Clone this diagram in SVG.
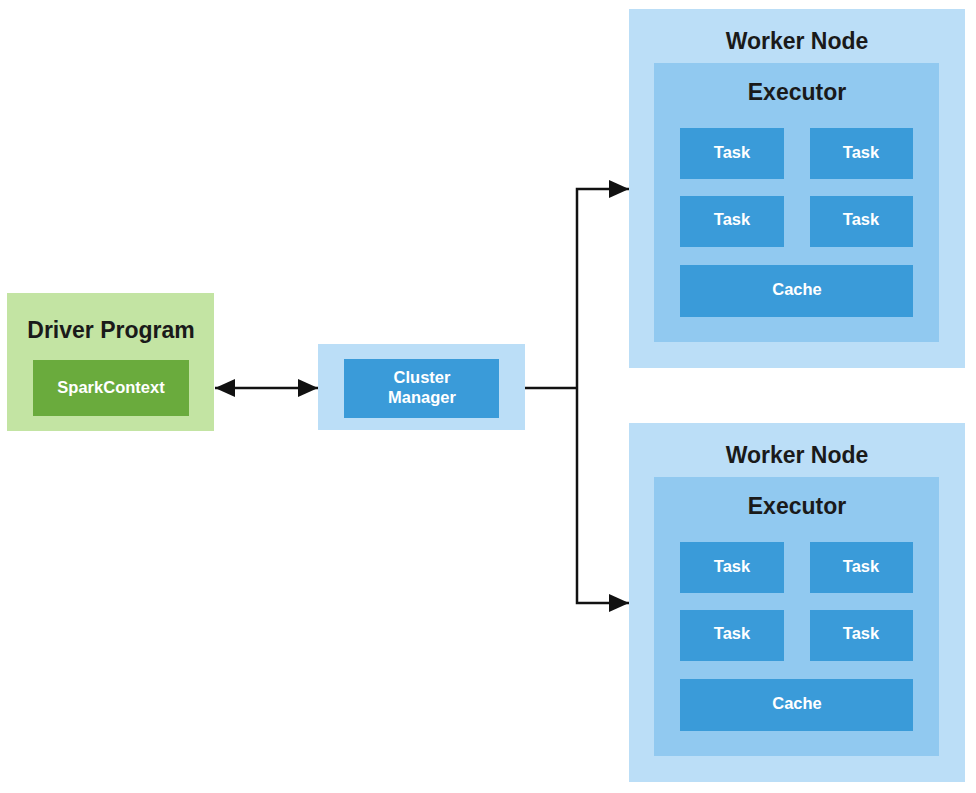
<svg xmlns="http://www.w3.org/2000/svg" width="976" height="793" viewBox="0 0 976 793">
<defs>
<style>
.title{font-family:"Liberation Sans",Arial,sans-serif;font-weight:bold;font-size:23px;fill:#1a1a1a;text-anchor:middle}
.lbl{font-family:"Liberation Sans",Arial,sans-serif;font-weight:bold;font-size:16.5px;fill:#ffffff;text-anchor:middle}
.outerB{fill:#bbdef7}
.exec{fill:#91c9f0}
.task{fill:#3a9bd9}
.outerG{fill:#c3e4a3}
.innerG{fill:#6aab3d}
.conn{fill:none;stroke:#111;stroke-width:2.5}
</style>
<marker id="ah" viewBox="0 0 20 18" refX="20" refY="9" markerWidth="20" markerHeight="18" markerUnits="userSpaceOnUse" orient="auto-start-reverse">
<path d="M0,0 L20,9 L0,18 Z" fill="#111"/>
</marker>
</defs>
<rect width="976" height="793" fill="#ffffff"/>

<g id="driver">
<rect class="outerG" x="7" y="293" width="207" height="138"/>
<text class="title" x="111" y="338">Driver Program</text>
<g id="sparkcontext">
<rect class="innerG" x="33" y="360" width="156" height="56"/>
<text class="lbl" x="111" y="393">SparkContext</text>
</g>
</g>

<g id="cluster-manager">
<rect class="outerB" x="318" y="344" width="207" height="86"/>
<rect class="task" x="344" y="359" width="155" height="59"/>
<text class="lbl" x="422" y="383">Cluster</text>
<text class="lbl" x="422" y="403">Manager</text>
</g>

<g id="worker1">
<rect class="outerB" x="629" y="9" width="336" height="359"/>
<text class="title" x="797" y="49">Worker Node</text>
<g id="executor1">
<rect class="exec" x="654" y="63" width="285" height="279"/>
<text class="title" x="797" y="100">Executor</text>
<rect class="task" x="680" y="128" width="104" height="51"/>
<text class="lbl" x="732" y="158">Task</text>
<rect class="task" x="810" y="128" width="103" height="51"/>
<text class="lbl" x="861" y="158">Task</text>
<rect class="task" x="680" y="196" width="104" height="51"/>
<text class="lbl" x="732" y="225">Task</text>
<rect class="task" x="810" y="196" width="103" height="51"/>
<text class="lbl" x="861" y="225">Task</text>
<rect class="task" x="680" y="265" width="233" height="52"/>
<text class="lbl" x="797" y="295">Cache</text>
</g>
</g>

<g id="worker2" transform="translate(0,414)">
<rect class="outerB" x="629" y="9" width="336" height="359"/>
<text class="title" x="797" y="49">Worker Node</text>
<g id="executor2">
<rect class="exec" x="654" y="63" width="285" height="279"/>
<text class="title" x="797" y="100">Executor</text>
<rect class="task" x="680" y="128" width="104" height="51"/>
<text class="lbl" x="732" y="158">Task</text>
<rect class="task" x="810" y="128" width="103" height="51"/>
<text class="lbl" x="861" y="158">Task</text>
<rect class="task" x="680" y="196" width="104" height="51"/>
<text class="lbl" x="732" y="225">Task</text>
<rect class="task" x="810" y="196" width="103" height="51"/>
<text class="lbl" x="861" y="225">Task</text>
<rect class="task" x="680" y="265" width="233" height="52"/>
<text class="lbl" x="797" y="295">Cache</text>
</g>
</g>

<g id="connectors">
<line class="conn" x1="215" y1="388" x2="318" y2="388" marker-start="url(#ah)" marker-end="url(#ah)"/>
<path class="conn" d="M525,388 H577"/>
<path class="conn" d="M577,388 V189 H629" marker-end="url(#ah)"/>
<path class="conn" d="M577,388 V603 H629" marker-end="url(#ah)"/>
</g>
</svg>
